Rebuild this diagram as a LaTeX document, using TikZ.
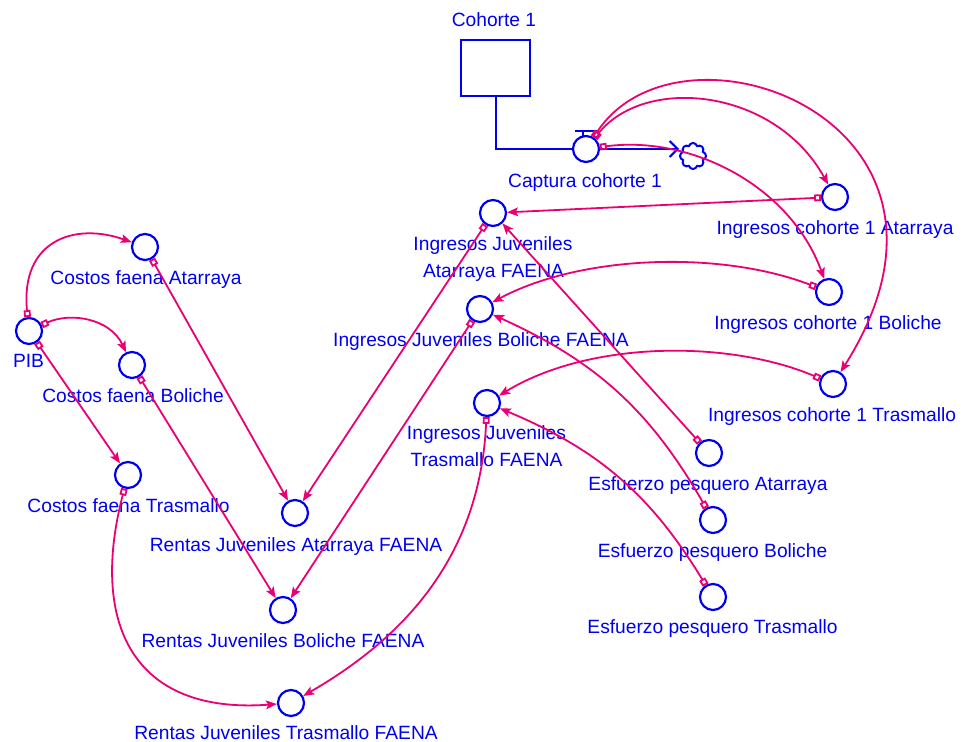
\documentclass[tikz,border=0pt]{standalone}
\usepackage{fontspec}
\setmainfont{Liberation Sans}
\usetikzlibrary{arrows.meta,shapes.symbols}
\definecolor{vblue}{RGB}{0,0,240}
\definecolor{vpink}{RGB}{235,0,115}
\begin{document}
\begin{tikzpicture}[x=0.5pt,y=-0.5pt,
  aux/.style={circle,draw=vblue,fill=white,line width=1.1pt,minimum size=13pt,inner sep=0pt},
  lbl/.style={text=vblue,font=\fontsize{9.6}{11}\selectfont,anchor=base,inner sep=0pt},
  link/.style={draw=vpink,line width=0.9pt,
    {Square[open,length=3.4pt,width=3.4pt]}-{Stealth[length=5.5pt,width=4.4pt,inset=1.2pt]}},
  pipe/.style={draw=vblue,line width=1pt}]
\useasboundingbox (0,0) rectangle (964,742);

% stock, valve and sink
\node[draw=vblue,line width=1pt,minimum width=34.5pt,minimum height=28pt,inner sep=0pt] (stock) at (495.5,68.5) {};
\node[lbl] (stockL) at (494,27) {Cohorte 1};
\node[aux] (valve) at (586,149) {};
\node[lbl] (valveL) at (585,187.5) {Captura cohorte 1};
\node[cloud,cloud puffs=8,draw=vblue,line width=1pt,minimum width=13pt,minimum height=13pt,aspect=1,inner sep=0pt] (sink) at (693,156) {};
\draw[pipe] (stock.south) |- (valve.west);
\draw[pipe,-{Straight Barb[length=4pt,width=8pt]}] (valve.east) -- (valve.east -| sink.west);
\draw[pipe] (575,131) -- (599,131) (583,131) -- (583,136.5);

% auxiliaries
\node[aux] (ica) at (835,197) {};
\node[lbl] (icaL) at (835,235) {Ingresos cohorte 1 Atarraya};
\node[aux] (icb) at (829,292) {};
\node[lbl] (icbL) at (828,330) {Ingresos cohorte 1 Boliche};
\node[aux] (ict) at (833,384) {};
\node[lbl] (ictL) at (832,421.5) {Ingresos cohorte 1 Trasmallo};

\node[aux] (ija) at (493,213) {};
\node[lbl] (ijaL1) at (493,250.5) {Ingresos Juveniles};
\node[lbl] (ijaL2) at (493.5,278) {Atarraya FAENA};
\node[aux] (ijb) at (480,309) {};
\node[lbl] (ijbL) at (481,346.5) {Ingresos Juveniles Boliche FAENA};
\node[aux] (ijt) at (487,403) {};
\node[lbl] (ijtL1) at (486.5,440) {Ingresos Juveniles};
\node[lbl] (ijtL2) at (486.5,467) {Trasmallo FAENA};

\node[aux] (pib) at (29,331) {};
\node[lbl] (pibL) at (28.5,368) {PIB};
\node[aux] (cfa) at (145,247) {};
\node[lbl] (cfaL) at (146,285) {Costos faena Atarraya};
\node[aux] (cfb) at (132,365) {};
\node[lbl] (cfbL) at (133,403) {Costos faena Boliche};
\node[aux] (cft) at (128,475) {};
\node[lbl] (cftL) at (128.5,513) {Costos faena Trasmallo};

\node[aux] (rja) at (295,513) {};
\node[lbl] (rjaL) at (296,551.5) {Rentas Juveniles Atarraya FAENA};
\node[aux] (rjb) at (283,610) {};
\node[lbl] (rjbL) at (283,648) {Rentas Juveniles Boliche FAENA};
\node[aux] (rjt) at (291,703) {};
\node[lbl] (rjtL) at (286,740) {Rentas Juveniles Trasmallo FAENA};

\node[aux] (epa) at (709,453) {};
\node[lbl] (epaL) at (708,491) {Esfuerzo pesquero Atarraya};
\node[aux] (epb) at (713,520) {};
\node[lbl] (epbL) at (712.5,557.5) {Esfuerzo pesquero Boliche};
\node[aux] (ept) at (713,597) {};
\node[lbl] (eptL) at (712.5,634) {Esfuerzo pesquero Trasmallo};

% causal links
\draw[link] (valve) .. controls (645,75) and (775,88) .. (ica);
\draw[link] (valve) .. controls (680,5) and (1000,120) .. (ict);
\draw[link] (valve) .. controls (690,135) and (790,185) .. (icb);

\draw[link] (ica) -- (ija);
\draw[link] (icb) .. controls (720,250) and (580,255) .. (ijb);
\draw[link] (ict) .. controls (730,340) and (590,340) .. (ijt);

\draw[link] (epa) -- (ija);
\draw[link] (epb) to[bend right=18] (ijb);
\draw[link] (ept) to[bend right=18] (ijt);

\draw[link] (pib) .. controls (20,240) and (75,222) .. (cfa);
\draw[link] (pib) .. controls (70,312) and (110,318) .. (cfb);
\draw[link] (pib) -- (cft);

\draw[link] (cfa) -- (rja);
\draw[link] (cfb) -- (rjb);
\draw[link] (cft) .. controls (90,620) and (130,715) .. (rjt);

\draw[link] (ija) -- (rja);
\draw[link] (ijb) -- (rjb);
\draw[link] (ijt) .. controls (480,560) and (400,640) .. (rjt);
\end{tikzpicture}
\end{document}
